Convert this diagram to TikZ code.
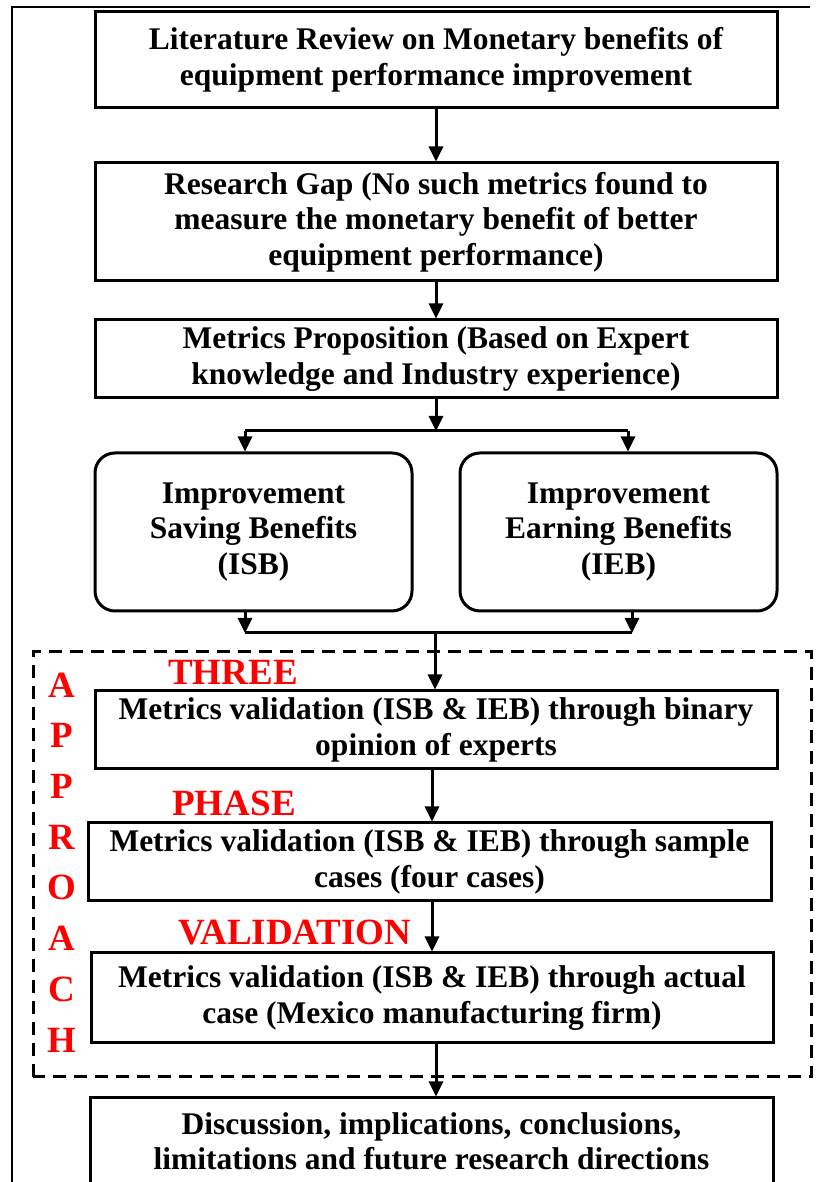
\documentclass[tikz,border=0pt]{standalone}
\usepackage{fontspec}
\setmainfont{Liberation Serif}
\usepackage{tikz}
\usetikzlibrary{arrows.meta}
\usepackage{xcolor}

\newcommand{\flowfont}{\fontsize{31.5}{35.5}\selectfont\bfseries}
\newcommand{\phasefont}{\fontsize{37}{40}\selectfont\bfseries}

\begin{document}
\begin{tikzpicture}[x=1pt,y=1pt,
box/.style={draw, line width=3pt, align=center, inner sep=0pt,
  minimum width=682pt, font=\flowfont},
benefit/.style={box, rounded corners=20pt, minimum width=317pt, minimum height=158pt},
arrow/.style={line width=3pt, -{Triangle[length=15pt,width=14pt]}},
link/.style={line width=3pt},
redlbl/.style={text=red, font=\phasefont, inner sep=0pt}]

\useasboundingbox (0,0) rectangle (819,1182);

\draw[line width=2pt] (12,0)--++(0,1175)--++(798,0);


\draw[line width=3pt, dash pattern=on 13pt off 8pt] (33,105) rectangle (811,530);


\node[box, minimum height=96pt] (b1) at (436,1122)
{Literature Review on Monetary benefits of\\ equipment performance improvement};

\node[box, minimum height=118pt] (b2) at (436,960)
{Research Gap (No such metrics found to\\ measure the monetary benefit of better\\ equipment performance)};

\node[box, minimum height=78pt] (b3) at (436,823)
{Metrics Proposition (Based on Expert\\ knowledge and Industry experience)};

\node[benefit] (isb) at (253.5,650) {Improvement\\ Saving Benefits\\ (ISB)};
\node[benefit] (ieb) at (618.5,650) {Improvement\\ Earning Benefits\\ (IEB)};

\node[box, minimum height=78pt] (b4) at (436,452)
{Metrics validation (ISB \& IEB) through binary\\ opinion of experts};

\node[box, minimum width=683pt, minimum height=78pt] (b5) at (429.5,320)
{Metrics validation (ISB \& IEB) through sample\\ cases (four cases)};

\node[box, minimum height=90pt] (b6) at (432,184)
{Metrics validation (ISB \& IEB) through actual\\ case (Mexico manufacturing firm)};

\node[box, minimum width=683pt, minimum height=87pt] (b7) at (431.5,40.5)
{Discussion, implications, conclusions,\\ limitations and future research directions};


\coordinate (split) at (436,751);
\coordinate (splitL) at (245,751);
\coordinate (splitR) at (628,751);
\coordinate (merge) at (435,549);
\coordinate (mergeL) at (245,549);
\coordinate (mergeR) at (632,549);

\draw[arrow] (b1) -- (b2);
\draw[arrow] (b2) -- (b3);
\draw[arrow] (b3) -- (split);
\draw[link] (splitL) -- (splitR);
\draw[arrow] (splitL) -- (splitL |- isb.north);
\draw[arrow] (splitR) -- (splitR |- ieb.north);

\draw[arrow] (mergeL |- isb.south) -- (mergeL);
\draw[arrow] (mergeR |- ieb.south) -- (mergeR);
\draw[link] (mergeL) -- (mergeR);
\draw[arrow] (merge) -- (merge |- b4.north);

\draw[arrow] (b4.south -| b6.north) -- (b5.north -| b6.north);
\draw[arrow] (b5.south -| b6.north) -- (b6.north);
\draw[arrow] (b6.south -| b4.south) -- (b7.north -| b4.south);


\node[redlbl] (three) at (233,510) {THREE};
\node[redlbl] (phase) at (234,379) {PHASE};
\node[redlbl] (valid) at (295,249) {VALIDATION};

\foreach \ch [count=\k from 0] in {A,P,P,R,O,A,C,H}
\node[redlbl] (ap\k) at (62,497-50.7*\k) {\ch};

\end{tikzpicture}
\end{document}
